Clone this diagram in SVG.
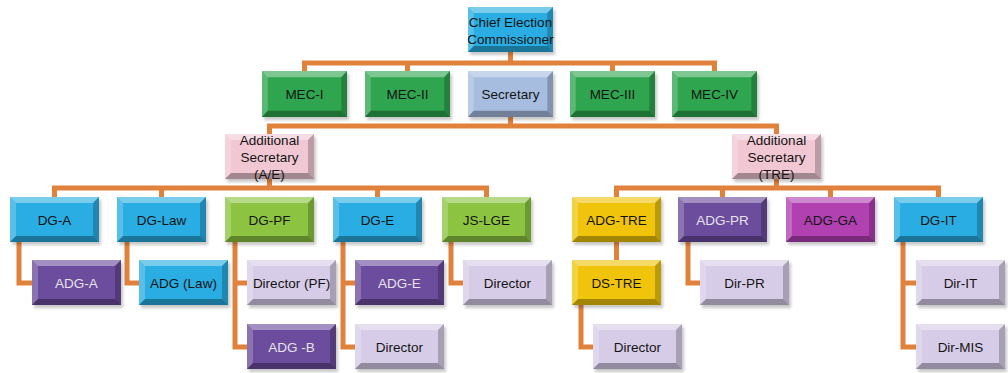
<svg xmlns="http://www.w3.org/2000/svg" xmlns:xlink="http://www.w3.org/1999/xlink" width="1008" height="373" viewBox="0 0 1008 373">
<style>
.conn{fill:none;stroke:#e0823c;stroke-width:5;stroke-linejoin:miter}
.t{font-family:"Liberation Sans",Arial,sans-serif;font-size:13.5px;text-anchor:middle;fill:#141414}
.tl{fill:#e6e2ec}
.sh{fill:#000;opacity:.22;filter:url(#blur)}
.blue{fill:#29ade2}.green{fill:#2fa54f}.sec{fill:#a7bde0}.pink{fill:#f1c7d3}
.lime{fill:#8cc441}.purple{fill:#6b4c9d}.lav{fill:#d7cce7}.yellow{fill:#f0c40a}.mag{fill:#b140b1}
</style>
<defs>
<filter id="blur" x="-10%" y="-20%" width="120%" height="150%"><feGaussianBlur stdDeviation="1.5"/></filter>
<symbol id="bevel" viewBox="0 0 89 45" preserveAspectRatio="none">
<polygon points="0,0 89,0 83,6 6,6" fill="#fff" opacity=".38"/>
<polygon points="0,0 6,6 6,39 0,45" fill="#fff" opacity=".22"/>
<polygon points="0,45 6,39 83,39 89,45" fill="#000" opacity=".32"/>
<polygon points="89,0 89,45 83,39 83,6" fill="#000" opacity=".22"/>
</symbol>
</defs>
<rect width="1008" height="373" fill="#fff"/>
<g id="connectors">
<path class="conn" d="M510.5 52V63M304.5 71V63H714.5V71M407.5 63V71M612.5 63V71"/>
<path class="conn" d="M510.5 117V126M269.5 134V126H776.5V134"/>
<path class="conn" d="M269.5 179V188M54.5 197V188H486.5V197M161.5 188V197M377.5 188V197"/>
<path class="conn" d="M776.5 179V188M616.5 197V188H938.5V197M722.5 188V197M830.5 188V197"/>
<path class="conn" d="M19 242V283H32M127 242V283H139M235 242V347H247M235 283H247M343 242V347H355M343 283H355M451 242V283H463"/>
<path class="conn" d="M616.5 242V260M581 305V347H593M688 242V283H700M903 242V347H916M903 283H916"/>
</g>
<g id="cec"><rect class="sh" x="470" y="10" width="85" height="45"/><rect class="blue" x="468" y="7" width="85" height="45"/><use xlink:href="#bevel" x="468" y="7" width="85" height="45"/><text class="t" x="510.5" y="27" font-size="13">Chief Election</text><text class="t" x="510.5" y="44" font-size="13">Commissioner</text></g>
<g id="mec1"><rect class="sh" x="264" y="74" width="85" height="46"/><rect class="green" x="262" y="71" width="85" height="46"/><use xlink:href="#bevel" x="262" y="71" width="85" height="46"/><text class="t" x="304.5" y="99">MEC-I</text></g>
<g id="mec2"><rect class="sh" x="367" y="74" width="85" height="46"/><rect class="green" x="365" y="71" width="85" height="46"/><use xlink:href="#bevel" x="365" y="71" width="85" height="46"/><text class="t" x="407.5" y="99">MEC-II</text></g>
<g id="secretary"><rect class="sh" x="470" y="74" width="85" height="46"/><rect class="sec" x="468" y="71" width="85" height="46"/><use xlink:href="#bevel" x="468" y="71" width="85" height="46"/><text class="t" x="510.5" y="99">Secretary</text></g>
<g id="mec3"><rect class="sh" x="572" y="74" width="85" height="46"/><rect class="green" x="570" y="71" width="85" height="46"/><use xlink:href="#bevel" x="570" y="71" width="85" height="46"/><text class="t" x="612.5" y="99">MEC-III</text></g>
<g id="mec4"><rect class="sh" x="674" y="74" width="85" height="46"/><rect class="green" x="672" y="71" width="85" height="46"/><use xlink:href="#bevel" x="672" y="71" width="85" height="46"/><text class="t" x="714.5" y="99">MEC-IV</text></g>
<g id="addsec-ae"><rect class="sh" x="227" y="137" width="89" height="45"/><rect class="pink" x="225" y="134" width="89" height="45"/><use xlink:href="#bevel" x="225" y="134" width="89" height="45"/><text class="t" x="269.5" y="145" font-size="13">Additional</text><text class="t" x="269.5" y="162" font-size="13">Secretary</text><text class="t" x="269.5" y="179" font-size="13">(A/E)</text></g>
<g id="addsec-tre"><rect class="sh" x="734" y="137" width="89" height="45"/><rect class="pink" x="732" y="134" width="89" height="45"/><use xlink:href="#bevel" x="732" y="134" width="89" height="45"/><text class="t" x="776.5" y="145" font-size="13">Additional</text><text class="t" x="776.5" y="162" font-size="13">Secretary</text><text class="t" x="776.5" y="179" font-size="13">(TRE)</text></g>
<g id="dg-a"><rect class="sh" x="12" y="200" width="89" height="45"/><rect class="blue" x="10" y="197" width="89" height="45"/><use xlink:href="#bevel" x="10" y="197" width="89" height="45"/><text class="t" x="54.5" y="224.5">DG-A</text></g>
<g id="dg-law"><rect class="sh" x="119" y="200" width="89" height="45"/><rect class="blue" x="117" y="197" width="89" height="45"/><use xlink:href="#bevel" x="117" y="197" width="89" height="45"/><text class="t" x="161.5" y="224.5">DG-Law</text></g>
<g id="dg-pf"><rect class="sh" x="227" y="200" width="89" height="45"/><rect class="lime" x="225" y="197" width="89" height="45"/><use xlink:href="#bevel" x="225" y="197" width="89" height="45"/><text class="t" x="269.5" y="224.5">DG-PF</text></g>
<g id="dg-e"><rect class="sh" x="335" y="200" width="89" height="45"/><rect class="blue" x="333" y="197" width="89" height="45"/><use xlink:href="#bevel" x="333" y="197" width="89" height="45"/><text class="t" x="377.5" y="224.5">DG-E</text></g>
<g id="js-lge"><rect class="sh" x="444" y="200" width="89" height="45"/><rect class="lime" x="442" y="197" width="89" height="45"/><use xlink:href="#bevel" x="442" y="197" width="89" height="45"/><text class="t" x="486.5" y="224.5">JS-LGE</text></g>
<g id="adg-tre"><rect class="sh" x="574" y="200" width="89" height="45"/><rect class="yellow" x="572" y="197" width="89" height="45"/><use xlink:href="#bevel" x="572" y="197" width="89" height="45"/><text class="t" x="616.5" y="224.5">ADG-TRE</text></g>
<g id="adg-pr"><rect class="sh" x="680" y="200" width="89" height="45"/><rect class="purple" x="678" y="197" width="89" height="45"/><use xlink:href="#bevel" x="678" y="197" width="89" height="45"/><text class="t tl" x="722.5" y="224.5">ADG-PR</text></g>
<g id="adg-ga"><rect class="sh" x="788" y="200" width="89" height="45"/><rect class="mag" x="786" y="197" width="89" height="45"/><use xlink:href="#bevel" x="786" y="197" width="89" height="45"/><text class="t" x="830.5" y="224.5">ADG-GA</text></g>
<g id="dg-it"><rect class="sh" x="896" y="200" width="89" height="45"/><rect class="blue" x="894" y="197" width="89" height="45"/><use xlink:href="#bevel" x="894" y="197" width="89" height="45"/><text class="t" x="938.5" y="224.5">DG-IT</text></g>
<g id="adg-a"><rect class="sh" x="34" y="263" width="89" height="45"/><rect class="purple" x="32" y="260" width="89" height="45"/><use xlink:href="#bevel" x="32" y="260" width="89" height="45"/><text class="t tl" x="76.5" y="287.5">ADG-A</text></g>
<g id="adg-law"><rect class="sh" x="141" y="263" width="89" height="45"/><rect class="blue" x="139" y="260" width="89" height="45"/><use xlink:href="#bevel" x="139" y="260" width="89" height="45"/><text class="t" x="183.5" y="287.5">ADG (Law)</text></g>
<g id="director-pf"><rect class="sh" x="249" y="263" width="89" height="45"/><rect class="lav" x="247" y="260" width="89" height="45"/><use xlink:href="#bevel" x="247" y="260" width="89" height="45"/><text class="t" x="291.5" y="287.5">Director (PF)</text></g>
<g id="adg-e"><rect class="sh" x="357" y="263" width="89" height="45"/><rect class="purple" x="355" y="260" width="89" height="45"/><use xlink:href="#bevel" x="355" y="260" width="89" height="45"/><text class="t tl" x="399.5" y="287.5">ADG-E</text></g>
<g id="director-lge"><rect class="sh" x="465" y="263" width="89" height="45"/><rect class="lav" x="463" y="260" width="89" height="45"/><use xlink:href="#bevel" x="463" y="260" width="89" height="45"/><text class="t" x="507.5" y="287.5">Director</text></g>
<g id="ds-tre"><rect class="sh" x="574" y="263" width="89" height="45"/><rect class="yellow" x="572" y="260" width="89" height="45"/><use xlink:href="#bevel" x="572" y="260" width="89" height="45"/><text class="t" x="616.5" y="287.5">DS-TRE</text></g>
<g id="dir-pr"><rect class="sh" x="702" y="263" width="89" height="45"/><rect class="lav" x="700" y="260" width="89" height="45"/><use xlink:href="#bevel" x="700" y="260" width="89" height="45"/><text class="t" x="744.5" y="287.5">Dir-PR</text></g>
<g id="dir-it"><rect class="sh" x="918" y="263" width="89" height="45"/><rect class="lav" x="916" y="260" width="89" height="45"/><use xlink:href="#bevel" x="916" y="260" width="89" height="45"/><text class="t" x="960.5" y="287.5">Dir-IT</text></g>
<g id="adg-b"><rect class="sh" x="249" y="327" width="89" height="45"/><rect class="purple" x="247" y="324" width="89" height="45"/><use xlink:href="#bevel" x="247" y="324" width="89" height="45"/><text class="t tl" x="291.5" y="351.5">ADG -B</text></g>
<g id="director-e"><rect class="sh" x="357" y="327" width="89" height="45"/><rect class="lav" x="355" y="324" width="89" height="45"/><use xlink:href="#bevel" x="355" y="324" width="89" height="45"/><text class="t" x="399.5" y="351.5">Director</text></g>
<g id="director-tre"><rect class="sh" x="595" y="327" width="89" height="45"/><rect class="lav" x="593" y="324" width="89" height="45"/><use xlink:href="#bevel" x="593" y="324" width="89" height="45"/><text class="t" x="637.5" y="351.5">Director</text></g>
<g id="dir-mis"><rect class="sh" x="918" y="327" width="89" height="45"/><rect class="lav" x="916" y="324" width="89" height="45"/><use xlink:href="#bevel" x="916" y="324" width="89" height="45"/><text class="t" x="960.5" y="351.5">Dir-MIS</text></g>
</svg>
